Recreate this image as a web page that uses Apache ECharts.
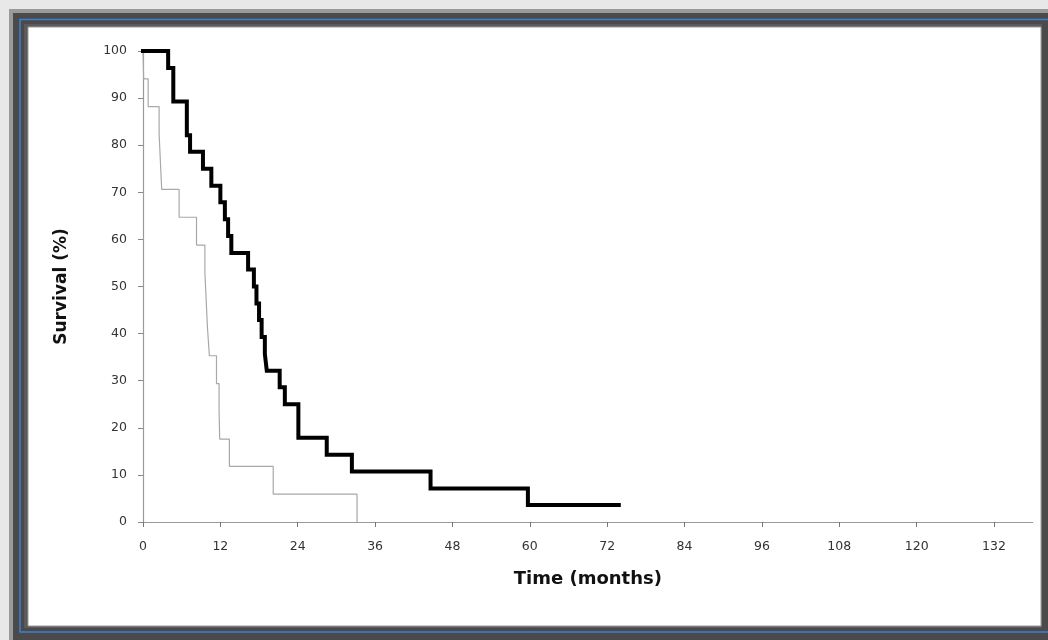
<!DOCTYPE html>
<html>
<head>
<meta charset="utf-8">
<script src="https://cdn.jsdelivr.net/npm/echarts@6/dist/echarts.min.js"></script>
<style>
html,body{margin:0;padding:0;background:#e8e8e8;}
#chart{width:1048px;height:640px;}
</style>
</head>
<body>
<div id="chart"></div>
<script>
// Kaplan-Meier curves: time (months) at which survival changes, survival (%) after change
var blackTimes = [0, 3.9, 4.7, 6.8, 7.3, 9.3, 10.6, 12.0, 12.7, 13.2, 13.7, 16.3, 17.2, 17.6, 18.0, 18.4, 18.9, 19.2, 21.2, 22.0, 24.1, 28.5, 32.4, 44.6, 59.7, 73.8];
var blackSurv  = [100, 96.4, 89.3, 82.1, 78.6, 75.0, 71.4, 67.9, 64.3, 60.7, 57.1, 53.6, 50.0, 46.4, 42.9, 39.3, 35.7, 32.1, 28.6, 25.0, 17.9, 14.3, 10.7, 7.1, 3.6, 3.6];
var grayTimes  = [0, 0.1, 0.8, 2.5, 2.7, 2.9, 5.6, 8.3, 9.6, 9.8, 10.0, 10.3, 11.4, 11.8, 11.9, 13.4, 20.2, 33.2];
var graySurv   = [100, 94.1, 88.2, 82.4, 76.5, 70.6, 64.7, 58.8, 52.9, 47.1, 41.2, 35.3, 29.4, 23.5, 17.6, 11.8, 5.9, 0];
var xTicks = [0, 12, 24, 36, 48, 60, 72, 84, 96, 108, 120, 132];
var yTicks = [0, 10, 20, 30, 40, 50, 60, 70, 80, 90, 100];
var xName = 'Time (months)';
var yName = 'Survival (%)';

function zip(a, b) { return a.map(function (v, i) { return [v, b[i]]; }); }

var chart = echarts.init(document.getElementById('chart'), null, {renderer: 'canvas'});
var W = 1048, H = 640;
chart.setOption({
  animation: false,
  backgroundColor: '#e8e8e8',
  graphic: [
    {type: 'rect', z: -10, silent: true, shape: {x: 12, y: 12, width: W, height: H}, style: {fill: '#4a4a4a'}},
    {type: 'rect', z: -9, silent: true, shape: {x: 9, y: 9, width: 4, height: H}, style: {fill: '#9a9a9a'}},
    {type: 'rect', z: -9, silent: true, shape: {x: 9, y: 9, width: W, height: 4}, style: {fill: '#9a9a9a'}},
    {type: 'rect', z: -8, silent: true, shape: {x: 20, y: 19.5, width: W, height: 612.5}, style: {fill: 'none', stroke: '#3f7fd0', lineWidth: 1.5}},
    {type: 'rect', z: -7, silent: true, shape: {x: 24, y: 24, width: 1018, height: 604}, style: {fill: '#5a5a5a'}},
    {type: 'rect', z: -6, silent: true, shape: {x: 28, y: 27, width: 1013, height: 599}, style: {fill: '#ffffff', stroke: '#9a9a9a', lineWidth: 1}}
  ],
  grid: {left: 143, top: 51, bottom: 118, right: 15.3, containLabel: false},
  xAxis: {
    type: 'value',
    min: 0, max: 138, interval: 12,
    name: xName,
    nameLocation: 'middle',
    nameGap: 48,
    nameTextStyle: {fontFamily: 'DejaVu Sans', fontWeight: 'bold', fontSize: 18, color: '#111'},
    axisLine: {show: true, lineStyle: {color: '#9a9a9a', width: 1.2}},
    axisTick: {show: true, length: 5, inside: false, lineStyle: {color: '#777'}, interval: function (i, v) { return v === 0; }},
    axisLabel: {showMaxLabel: false, margin: 18, fontFamily: 'DejaVu Sans', fontSize: 12.5, color: '#333',
      formatter: function (v) { return xTicks.indexOf(v) >= 0 ? String(v) : ''; }},
    splitLine: {show: false}
  },
  yAxis: {
    type: 'value',
    min: 0, max: 100, interval: 10,
    name: yName,
    nameLocation: 'middle',
    nameGap: 73,
    nameTextStyle: {fontFamily: 'DejaVu Sans', fontWeight: 'bold', fontSize: 17, color: '#111'},
    axisLine: {show: true, lineStyle: {color: '#9a9a9a', width: 1.2}},
    axisTick: {show: true, length: 5, lineStyle: {color: '#888'}},
    axisLabel: {margin: 16, fontFamily: 'DejaVu Sans', fontSize: 12.5, color: '#333',
      formatter: function (v) { return yTicks.indexOf(v) >= 0 ? String(v) : ''; }},
    splitLine: {show: false}
  },
  series: [
    {
      type: 'line', step: 'end', showSymbol: false, z: 2,
      data: zip(grayTimes, graySurv),
      lineStyle: {color: '#a8a8a8', width: 1.2}
    },
    {
      type: 'line', step: 'end', showSymbol: false, z: 3,
      data: zip(blackTimes, blackSurv),
      lineStyle: {color: '#000000', width: 4, join: 'miter', cap: 'square'}
    }
  ]
});
</script>
</body>
</html>
